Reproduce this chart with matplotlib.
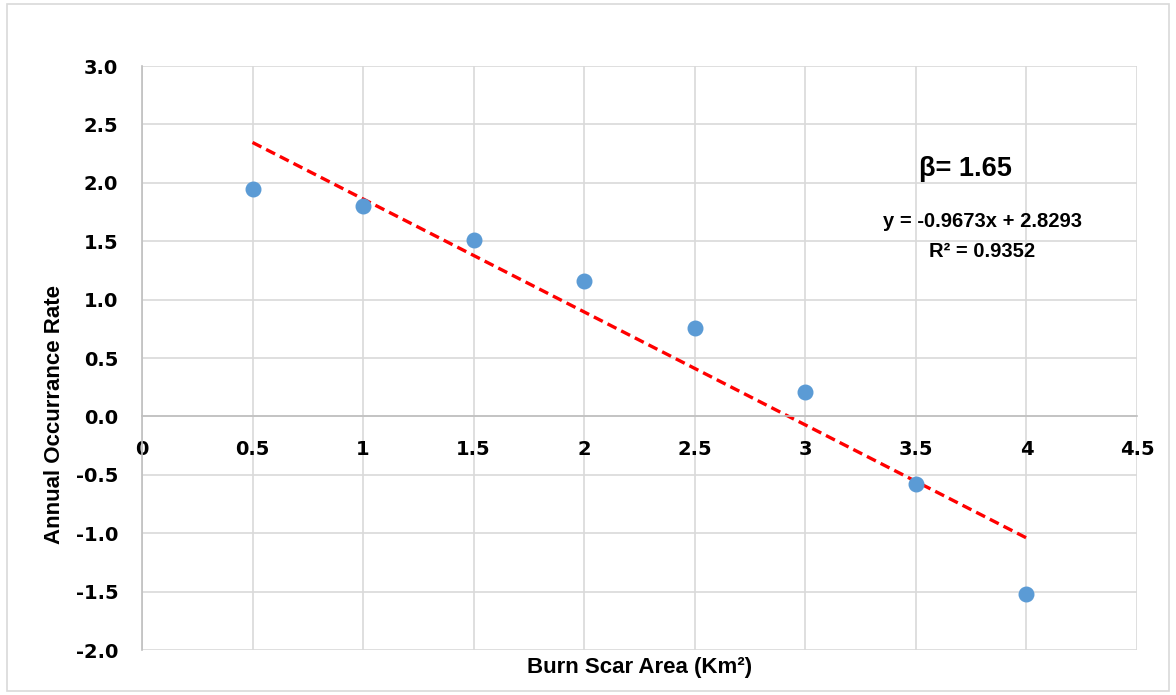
import numpy as np
import matplotlib.pyplot as plt
from matplotlib.patches import Rectangle

# data
burn_area = [0.5, 1.0, 1.5, 2.0, 2.5, 3.0, 3.5, 4.0]
occurrence = [1.95, 1.80, 1.51, 1.16, 0.76, 0.21, -0.58, -1.52]
slope, intercept = -0.9673, 2.8293
x_ticks = [0, 0.5, 1, 1.5, 2, 2.5, 3, 3.5, 4, 4.5]
x_tick_labels = ['0', '0.5', '1', '1.5', '2', '2.5', '3', '3.5', '4', '4.5']
y_ticks = [-2.0, -1.5, -1.0, -0.5, 0.0, 0.5, 1.0, 1.5, 2.0, 2.5, 3.0]

fig = plt.figure(figsize=(11.76, 6.95), dpi=100)
fig.patches.append(Rectangle((0.006, 0.006), 0.988, 0.988, transform=fig.transFigure,
                             fill=False, edgecolor='#d9d9d9', linewidth=1.2))
ax = fig.add_axes([0.1207, 0.0647, 0.8461, 0.8403])

ax.set_xlim(0, 4.5)
ax.set_ylim(-2.0, 3.0)
ax.set_xticks(x_ticks)
ax.set_xticklabels(x_tick_labels)
ax.set_yticks(y_ticks)
ax.set_yticklabels([f'{v:.1f}' for v in y_ticks])
ax.grid(True, color='#d9d9d9', linewidth=1.2)
ax.set_axisbelow(True)

for s in ['top', 'right']:
    ax.spines[s].set_visible(False)
ax.spines['bottom'].set_position(('data', 0))
ax.spines['bottom'].set_color('#bfbfbf')
ax.spines['left'].set_color('#bfbfbf')
ax.spines['bottom'].set_linewidth(1.2)
ax.spines['left'].set_linewidth(1.2)
ax.tick_params(length=0, labelsize=14, pad=17)
for lab in ax.get_xticklabels() + ax.get_yticklabels():
    lab.set_fontweight('bold')
    lab.set_family('DejaVu Sans')

ax.scatter(burn_area, occurrence, s=110, color='#5b9bd5', zorder=3)
xf = np.array([burn_area[0], burn_area[-1]])
ax.plot(xf, slope * xf + intercept, color='#ff0000', linestyle=(0, (3, 1.6)),
        linewidth=2.4, zorder=2)

title_font = dict(fontsize=16, fontweight='bold', family='Liberation Sans')
fig.text(55 / 1176, 1 - 414 / 695, 'Annual Occurrance Rate', rotation=90,
         ha='center', va='center', **title_font)
fig.text(640 / 1176, 1 - 668 / 695, 'Burn Scar Area (Km²)',
         ha='center', va='center', **title_font)

ax.text(3.725, 2.12, 'β= 1.65', fontsize=19.5, fontweight='bold', family='Liberation Sans',
        ha='center', va='center')
ax.text(3.80, 1.67, 'y = -0.9673x + 2.8293', fontsize=14.5, fontweight='bold',
        family='Liberation Sans', ha='center', va='center')
ax.text(3.80, 1.41, 'R² = 0.9352', fontsize=14.5, fontweight='bold',
        family='Liberation Sans', ha='center', va='center')

fig.savefig('out.png', dpi=100)
plt.close(fig)
